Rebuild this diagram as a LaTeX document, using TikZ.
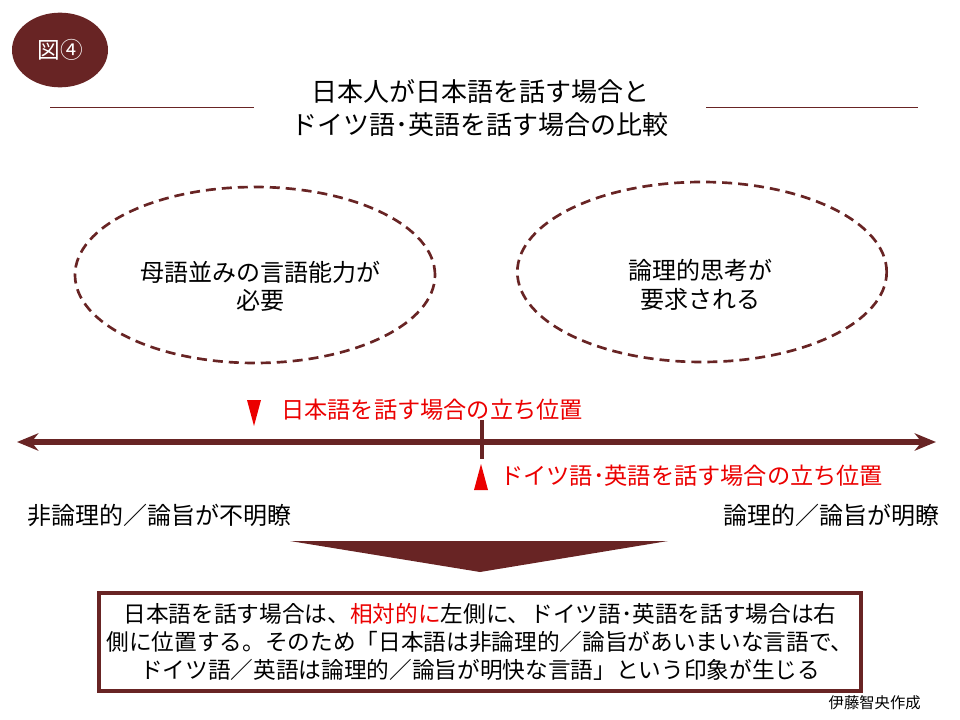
\documentclass[tikz,border=0pt]{standalone}
\usepackage{fontspec}
\setmainfont{Noto Sans CJK JP}
\usepackage{tikz}
\usetikzlibrary{positioning,arrows.meta,shapes.geometric}
\definecolor{brn}{RGB}{104,36,36}
\definecolor{hot}{RGB}{235,0,0}

\begin{document}
\begin{tikzpicture}[x=0.75pt, y=-0.75pt, >=Stealth,
    bubble/.style={ellipse, draw=brn, dash pattern=on 7.5pt off 4.5pt, line width=2pt, inner sep=0pt},
    standpoint/.style={font=\fontsize{17.4}{20}\selectfont, text=hot, anchor=west, inner sep=0pt},
    side/.style={font=\fontsize{18}{22}\selectfont, inner sep=0pt},
    marker/.style={fill=hot, draw=none}]

\useasboundingbox (0,0) rectangle (960,720);

% badge and title
\node[ellipse, fill=brn, minimum width=72pt, minimum height=56pt, inner sep=0pt, text=white,
  font=\fontsize{17}{18}\selectfont] (fig) at (60,50) {図④};
\node[align=center, font=\fontsize{19.5}{25}\selectfont] (title) at (480,108)
  {日本人が日本語を話す場合と\\ドイツ語･英語を話す場合の比較};
\coordinate (l1) at (50,107);  \coordinate (l2) at (254,107);
\coordinate (r1) at (706,107); \coordinate (r2) at (918,107);
\draw[brn, line width=0.7pt] (l1) -- (l2) (r1) -- (r2);

% the two bubbles
\node[bubble, minimum width=270pt, minimum height=132pt] (native) at (255,275) {};
\node[align=center, font=\fontsize{18}{21}\selectfont] (nativetxt) at (260,286) {母語並みの言語能力が\\必要};
\node[bubble, minimum width=277pt, minimum height=135pt] (logic) at (702,272) {};
\node[align=center, font=\fontsize{18}{22}\selectfont] (logictxt) at (700,285) {論理的思考が\\要求される};

% axis
\coordinate (west) at (17,442);
\coordinate (east) at (936,442);
\draw[brn, line width=3.8pt, {Stealth[length=16pt,width=13pt]}-{Stealth[length=16pt,width=13pt]}] (west) -- (east);
\coordinate (mid1) at (482,420); \coordinate (mid2) at (482,459);
\draw[brn, line width=2.5pt] (mid1) -- (mid2);

% positions
\path[marker] (247,400) -- (261,400) -- (254,426) -- cycle;
\node[standpoint] (jp) at (281,410) {日本語を話す場合の立ち位置};
\path[marker] (474,490) -- (488,490) -- (481,464) -- cycle;
\node[standpoint] (de) at (500,476) {ドイツ語･英語を話す場合の立ち位置};

\node[side, anchor=west] (illogic) at (27,515) {非論理的／論旨が不明瞭};
\node[side, anchor=east] (logical) at (940,515) {論理的／論旨が明瞭};

% conclusion
\fill[brn] (290,541) -- (668,541) -- (480,572) -- cycle;
\node[draw=brn, line width=3pt, minimum width=571pt, minimum height=74pt, inner sep=0pt] (box) at (480,642) {};
\node[align=center, font=\fontsize{17}{21}\selectfont] (boxtxt) at (480,642)
  {日本語を話す場合は、\textcolor{hot}{相対的に}左側に、ドイツ語･英語を話す場合は右\\
   側に位置する。そのため「日本語は非論理的／論旨があいまいな言語で、\\
   ドイツ語／英語は論理的／論旨が明快な言語」という印象が生じる};
\node[anchor=east, font=\fontsize{11.5}{13}\selectfont, inner sep=0pt] (credit) at (921,703) {伊藤智央作成};
\end{tikzpicture}
\end{document}
